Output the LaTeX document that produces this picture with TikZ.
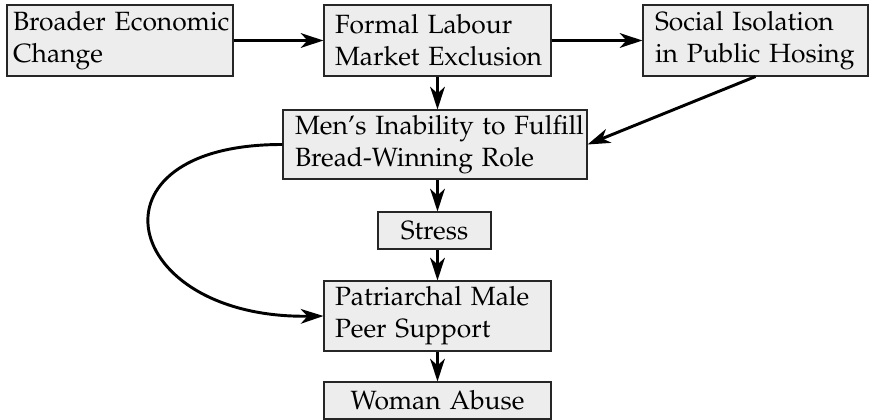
\documentclass[tikz,border=0pt]{standalone}
\usepackage[T1]{fontenc}
\usepackage{mathpazo}
\usetikzlibrary{arrows.meta}
\begin{document}
\begin{tikzpicture}[x=0.75pt,y=-0.75pt,
  box/.style={draw=black!85, fill=black!7, line width=0.8pt, inner ysep=0pt,
    align=left, font=\fontsize{19.8}{24}\selectfont},
  cbox/.style={box, align=center},
  arr/.style={line width=2.2pt, -{Stealth[length=17pt,width=11pt,inset=5pt]}}]
\useasboundingbox (0,0) rectangle (869,419);
\node[box, inner xsep=4.5pt, text width=160.5pt, minimum height=53.25pt] (b1) at (120,40.5)
  {\mbox{Broader Economic}\\Change};
\node[box, inner xsep=8.25pt, text width=153.75pt, minimum height=53.25pt] (b2) at (437.5,40.5)
  {\mbox{Formal Labour}\\\mbox{Market Exclusion}};
\node[box, inner xsep=9pt, text width=150.75pt, minimum height=53.25pt] (b3) at (755.5,40.5)
  {\mbox{Social Isolation}\\\mbox{in Public Hosing}};
\node[box, inner xsep=9pt, text width=210pt, minimum height=51.75pt] (b4) at (435,144.5)
  {\mbox{Men's Inability to Fulfill}\\\mbox{Bread-Winning Role}};
\node[cbox, inner xsep=4pt, text width=76.75pt, minimum height=27.75pt] (st) at (434.5,230.5)
  {Stress};
\node[box, inner xsep=8.25pt, text width=153.75pt, minimum height=52.5pt] (b6) at (437.5,316)
  {\mbox{Patriarchal Male}\\\mbox{Peer Support}};
\node[cbox, inner xsep=4pt, text width=162.25pt, minimum height=27.75pt] (b7) at (437.5,400.5)
  {Woman Abuse};
\draw[arr] (b1.east) -- (b2.west);
\draw[arr] (b2.east) -- (b3.west);
\draw[arr] (b2.south) -- (b2.south |- b4.north);
\draw[arr] (b3.south) -- (b4.east);
\draw[arr] (b2.south |- b4.south) -- (b2.south |- st.north);
\draw[arr] (b2.south |- st.south) -- (b6.north);
\draw[arr] (b6.south) -- (b7.north);
\draw[arr] (b4.west) .. controls (80,144) and (120,319) .. (b6.west);
\end{tikzpicture}
\end{document}
